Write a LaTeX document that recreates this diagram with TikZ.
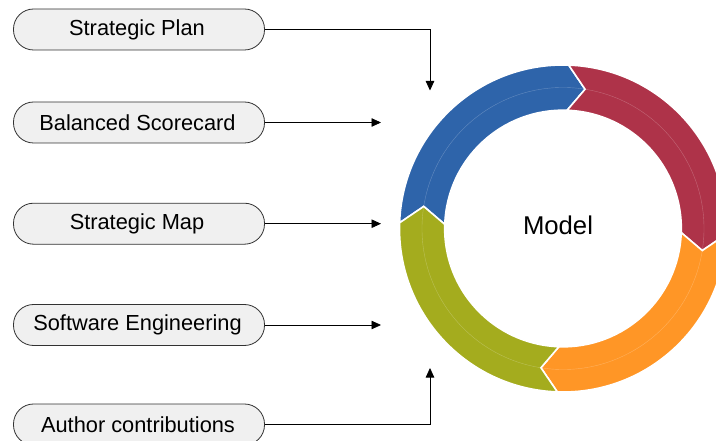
\documentclass[tikz,border=0pt]{standalone}
\usepackage{fontspec}
\setmainfont{Liberation Sans}
\usetikzlibrary{arrows.meta}

\definecolor{segblue}{RGB}{46,100,170}
\definecolor{segred}{RGB}{174,51,73}
\definecolor{segorange}{RGB}{255,150,38}
\definecolor{seggreen}{RGB}{164,172,30}
\definecolor{boxfill}{RGB}{240,240,240}
\definecolor{boxline}{RGB}{50,50,50}

\begin{document}
\begin{tikzpicture}[x=1pt, y=1pt,
  source/.style={draw=boxline, line width=0.8pt, fill=boxfill, rounded corners=20pt,
    minimum width=251pt, minimum height=41pt, inner sep=0pt,
    font=\fontsize{21.8}{25}\selectfont},
  feed/.style={draw, line width=0.8pt, -{Triangle[length=9.5pt,width=8.5pt]}},
  seg/.style={draw=white, line width=1.6pt, line join=miter}]
\useasboundingbox (0,0) rectangle (716,440);

\node[source] (plan)   at (139,410.5) {\hspace*{-4pt}Strategic Plan};
\node[source] (bsc)    at (139,317.5) {\hspace*{-3pt}Balanced Scorecard};
\node[source] (map)    at (139,216.3) {\hspace*{-4pt}Strategic Map};
\node[source] (soft)   at (139,115)   {\hspace*{-3pt}Software Engineering};
\node[source] (author) at (139,15.5)  {\hspace*{-2pt}Author contributions};

% the ring
\begin{scope}[shift={(563,211.5)}]
\foreach \a/\c in {178/segblue, 88/segred, -2/segorange, -92/seggreen}{
  \pgfmathsetmacro{\b}{\a-90}
  \pgfmathsetmacro{\t}{\a-97}
  \pgfmathsetmacro{\n}{\a-7}
  \fill[\c, seg] (\a:163.5) arc[start angle=\a, end angle=\b, radius=163.5]
    -- (\t:141) -- (\b:118.3) arc[start angle=\b, end angle=\a, radius=118.3]
    -- (\n:141) -- cycle;
  \draw[white, opacity=0.25, line width=0.4pt] (\n:141) arc[start angle=\n, end angle=\t, radius=141];
}
\end{scope}
\node[font=\fontsize{25.7}{30}\selectfont] (model) at (558,215) {Model};

\coordinate (in1) at (430,349.5);
\coordinate (in2) at (381,317.5);
\coordinate (in3) at (381,216.3);
\coordinate (in4) at (381,115);
\coordinate (in5) at (430,72);

\draw[feed] (plan.east) -| (in1);
\draw[feed] (bsc.east) -- (in2);
\draw[feed] (map.east) -- (in3);
\draw[feed] (soft.east) -- (in4);
\draw[feed] (author.east) -| (in5);
\end{tikzpicture}
\end{document}
